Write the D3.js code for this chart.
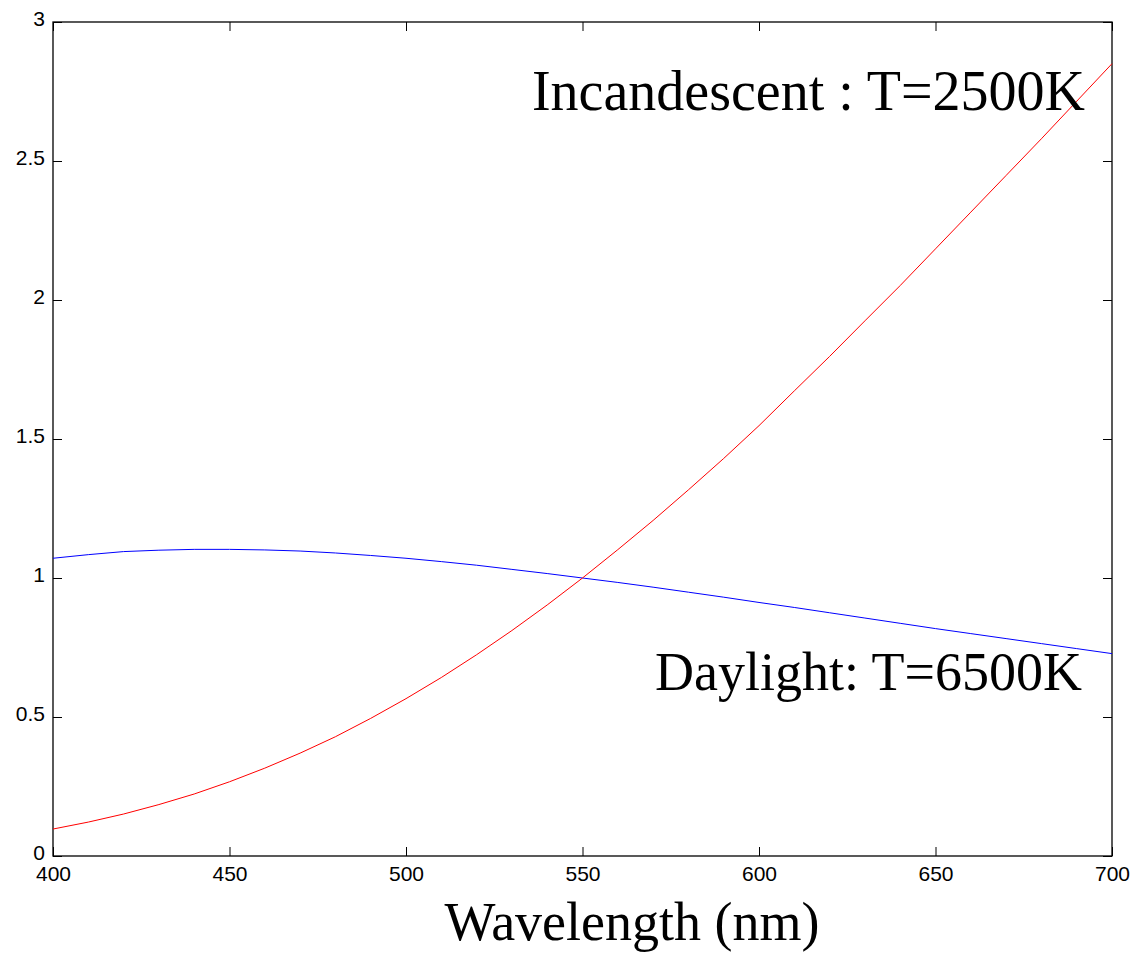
<!DOCTYPE html>
<html>
<head>
<meta charset="utf-8">
<script src="https://cdn.jsdelivr.net/npm/d3@7"></script>
<style>
  body { margin: 0; background: #fff; }
  svg { display: block; }
</style>
</head>
<body>
<script>
// wavelengths (nm) sampled every 10 nm
const wavelengths = [400, 410, 420, 430, 440, 450, 460, 470, 480, 490, 500, 510, 520, 530, 540, 550,
  560, 570, 580, 590, 600, 610, 620, 630, 640, 650, 660, 670, 680, 690, 700];

// incandescent (T=2500K), relative to 550 nm
const incandescent = [0.097, 0.122, 0.151, 0.185, 0.223, 0.267, 0.316, 0.370, 0.429, 0.495, 0.566,
  0.642, 0.724, 0.811, 0.903, 1.0, 1.102, 1.207, 1.317, 1.430, 1.548, 1.673, 1.797, 1.925, 2.052,
  2.184, 2.316, 2.448, 2.580, 2.715, 2.850];

// daylight (T=6500K), relative to 550 nm
const daylight = [1.071, 1.084, 1.095, 1.100, 1.103, 1.103, 1.101, 1.097, 1.090, 1.081, 1.071,
  1.059, 1.046, 1.031, 1.016, 1.0, 0.984, 0.967, 0.949, 0.931, 0.912, 0.894, 0.875, 0.856, 0.837,
  0.818, 0.800, 0.782, 0.764, 0.746, 0.728];

const xTicks = [400, 450, 500, 550, 600, 650, 700];
const yTicks = [0, 0.5, 1, 1.5, 2, 2.5, 3];

const WIDTH = 1132;
const HEIGHT = 953;
const PLOT = { left: 53, right: 1112, top: 22, bottom: 856 };

const svg = d3.select('body')
  .append('svg')
  .attr('width', WIDTH)
  .attr('height', HEIGHT);

const x = d3.scaleLinear().domain([400, 700]).range([PLOT.left, PLOT.right]);
const y = d3.scaleLinear().domain([0, 3]).range([PLOT.bottom, PLOT.top]);

// axes: ticks pointing inward, box all round
const tickLen = 9;
const tickFont = '21px "Liberation Sans", Arial, sans-serif';

svg.append('g')
  .attr('transform', 'translate(0,' + PLOT.bottom + ')')
  .call(d3.axisBottom(x).tickValues(xTicks).tickSizeInner(-tickLen).tickSizeOuter(0).tickPadding(10)
    .tickFormat(d3.format('d')))
  .call(g => g.select('.domain').remove())
  .call(g => g.selectAll('text').style('font', tickFont).attr('fill', '#000'));

svg.append('g')
  .attr('transform', 'translate(0,' + PLOT.top + ')')
  .call(d3.axisTop(x).tickValues(xTicks).tickSizeInner(-tickLen).tickSizeOuter(0).tickFormat(''))
  .call(g => g.select('.domain').remove());

svg.append('g')
  .attr('transform', 'translate(' + PLOT.left + ',0)')
  .call(d3.axisLeft(y).tickValues(yTicks).tickSizeInner(-tickLen).tickSizeOuter(0).tickPadding(8)
    .tickFormat(d3.format('')))
  .call(g => g.select('.domain').remove())
  .call(g => g.selectAll('text').style('font', tickFont).attr('fill', '#000').attr('dy', '0.15em'));

svg.append('g')
  .attr('transform', 'translate(' + PLOT.right + ',0)')
  .call(d3.axisRight(y).tickValues(yTicks).tickSizeInner(-tickLen).tickSizeOuter(0).tickFormat(''))
  .call(g => g.select('.domain').remove());

svg.selectAll('.tick line').attr('stroke', '#000').attr('stroke-width', 1);

svg.append('rect')
  .attr('x', PLOT.left)
  .attr('y', PLOT.top)
  .attr('width', PLOT.right - PLOT.left)
  .attr('height', PLOT.bottom - PLOT.top)
  .attr('fill', 'none')
  .attr('stroke', '#000')
  .attr('stroke-width', 1.3);

// curves
const line = d3.line()
  .x(d => x(d[0]))
  .y(d => y(d[1]));

svg.append('path')
  .datum(d3.zip(wavelengths, daylight))
  .attr('d', line)
  .attr('fill', 'none')
  .attr('stroke', '#0000ff')
  .attr('stroke-width', 1);

svg.append('path')
  .datum(d3.zip(wavelengths, incandescent))
  .attr('d', line)
  .attr('fill', 'none')
  .attr('stroke', '#ff0000')
  .attr('stroke-width', 1);

// labels
const serif = '"Liberation Serif", "Times New Roman", serif';

svg.append('text')
  .attr('x', 1085)
  .attr('y', 110)
  .attr('text-anchor', 'end')
  .style('font-family', serif)
  .style('font-size', '56px')
  .text('Incandescent : T=2500K');

svg.append('text')
  .attr('x', 1082)
  .attr('y', 690)
  .attr('text-anchor', 'end')
  .style('font-family', serif)
  .style('font-size', '54px')
  .text('Daylight: T=6500K');

svg.append('text')
  .attr('x', 632)
  .attr('y', 940)
  .attr('text-anchor', 'middle')
  .style('font-family', serif)
  .style('font-size', '54px')
  .text('Wavelength (nm)');
</script>
</body>
</html>
